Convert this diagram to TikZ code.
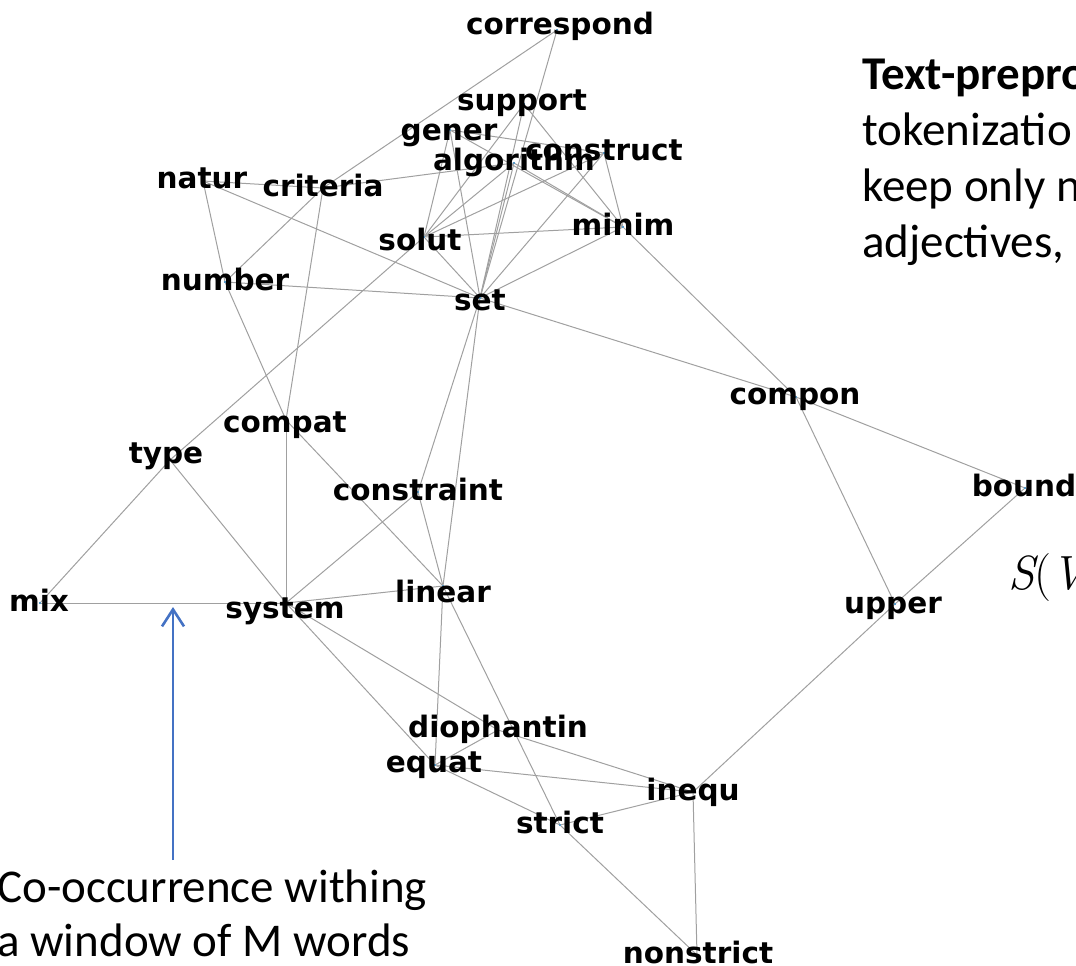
\documentclass[tikz,border=0pt]{standalone}
\usepackage{fontspec}
\setmainfont{Carlito}
\newfontfamily\lblfont{DejaVu Sans}
\newfontfamily\lmr{Latin Modern Roman}
\usetikzlibrary{arrows.meta}
\definecolor{edgegray}{RGB}{160,160,160}
\definecolor{nodeblue}{RGB}{31,119,180}
\definecolor{arrowblue}{RGB}{68,114,196}
\pgfdeclarelayer{bg}
\pgfsetlayers{bg,main}
\begin{document}
\begin{tikzpicture}[x=1pt,y=-1pt,
  vtx/.style={circle,fill=nodeblue,inner sep=0pt,minimum size=2.2pt},
  edge/.style={draw=edgegray,line width=1pt},
  lbl/.style={font={\lblfont\bfseries\fontsize{29.5}{32}\selectfont},inner sep=0pt,anchor=mid,yshift=-8pt},
  body/.style={font={\fontsize{47}{56}\selectfont},inner sep=0pt,anchor=base west},
  pointer/.style={draw=arrowblue,line width=2.8pt,-{Straight Barb[length=17pt,width=22pt,line width=2.6pt]}}
]
\useasboundingbox (0,0) rectangle (1076,966);
\clip (0,0) rectangle (1076,966);

% vertices
\node[vtx] (correspond) at (557,30) {};
\node[vtx] (support) at (524,104) {};
\node[vtx] (gener) at (450,130) {};
\node[vtx] (algorithm) at (514,163) {};
\node[vtx] (construct) at (604,153) {};
\node[vtx] (natur) at (203,181) {};
\node[vtx] (criteria) at (323,188) {};
\node[vtx] (minim) at (623,227) {};
\node[vtx] (solut) at (424,237) {};
\node[vtx] (number) at (225,282) {};
\node[vtx] (set) at (480,298) {};
\node[vtx] (compon) at (796,397) {};
\node[vtx] (compat) at (286,420) {};
\node[vtx] (type) at (170,460) {};
\node[vtx] (constraint) at (418,492) {};
\node[vtx] (bound) at (1025,488) {};
\node[vtx] (mix) at (40,603) {};
\node[vtx] (system) at (286,603) {};
\node[vtx] (linear) at (443,586) {};
\node[vtx] (upper) at (895,604) {};
\node[vtx] (diophantin) at (498,730) {};
\node[vtx] (equat) at (435,765) {};
\node[vtx] (inequ) at (693,792) {};
\node[vtx] (strict) at (560,825) {};
\node[vtx] (nonstrict) at (697,955) {};

% edges
\begin{pgfonlayer}{bg}
\foreach \a/\b in {correspond/criteria, correspond/set,
  support/solut, support/set, support/minim,
  gener/construct, gener/minim, gener/solut, gener/set,
  algorithm/criteria, algorithm/minim, algorithm/solut, algorithm/set,
  construct/minim, construct/solut, construct/set,
  natur/criteria, natur/set, natur/number,
  criteria/number, criteria/compat,
  number/set, number/compat,
  solut/minim, solut/set, solut/type,
  minim/set, minim/compon,
  set/compon, set/constraint, set/linear,
  compon/bound, compon/upper, upper/bound, upper/inequ,
  compat/system, compat/linear,
  type/mix, type/system, mix/system,
  system/constraint, system/linear, system/equat, system/diophantin,
  constraint/linear, linear/equat, linear/strict,
  diophantin/equat, diophantin/inequ,
  equat/inequ, equat/strict,
  strict/inequ, strict/nonstrict, inequ/nonstrict}
  \draw[edge] (\a) -- (\b);
\end{pgfonlayer}

% labels
\node[lbl] (correspondL) at (560,24) {correspond};
\node[lbl] (supportL) at (522,100) {support};
\node[lbl] (generL) at (449,130) {gener};
\node[lbl] (algorithmL) at (514,160) {algorithm};
\node[lbl] (constructL) at (604,150) {construct};
\node[lbl] (naturL) at (202,178) {natur};
\node[lbl] (criteriaL) at (323,186) {criteria};
\node[lbl] (minimL) at (623,225) {minim};
\node[lbl] (solutL) at (420,240) {solut};
\node[lbl] (numberL) at (225,280) {number};
\node[lbl] (setL) at (480,300) {set};
\node[lbl] (componL) at (795,394) {compon};
\node[lbl] (compatL) at (285,422) {compat};
\node[lbl] (typeL) at (166,453) {type};
\node[lbl] (constraintL) at (418,490) {constraint};
\node[lbl] (boundL) at (1024,486) {bound};
\node[lbl] (mixL) at (39,601) {mix};
\node[lbl] (systemL) at (285,608) {system};
\node[lbl] (linearL) at (443,592) {linear};
\node[lbl] (upperL) at (893,603) {upper};
\node[lbl] (diophantinL) at (498,727) {diophantin};
\node[lbl] (equatL) at (434,762) {equat};
\node[lbl] (inequL) at (693,790) {inequ};
\node[lbl] (strictL) at (560,823) {strict};
\node[lbl] (nonstrictL) at (698,953) {nonstrict};

% side texts
\node[body] (t1) at (862,89) {\bfseries Text-prepro};
\node[body] (t2) at (862,145) {tokenizatio};
\node[body] (t3) at (862,201) {keep only n};
\node[body] (t4) at (862,257) {adjectives,};
\node[body] (sv) at (1008,589) {\lmr\fontsize{48}{56}\selectfont\itshape S\upshape(\itshape V};
\node[body] (c1) at (-3,902) {Co-occurrence withing};
\node[body] (c2) at (-3,956) {a window of M words};

% pointer arrow
\coordinate (ptail) at (173,860);
\coordinate (ptip) at (173,607);
\draw[pointer] (ptail) -- (ptip);
\end{tikzpicture}
\end{document}
